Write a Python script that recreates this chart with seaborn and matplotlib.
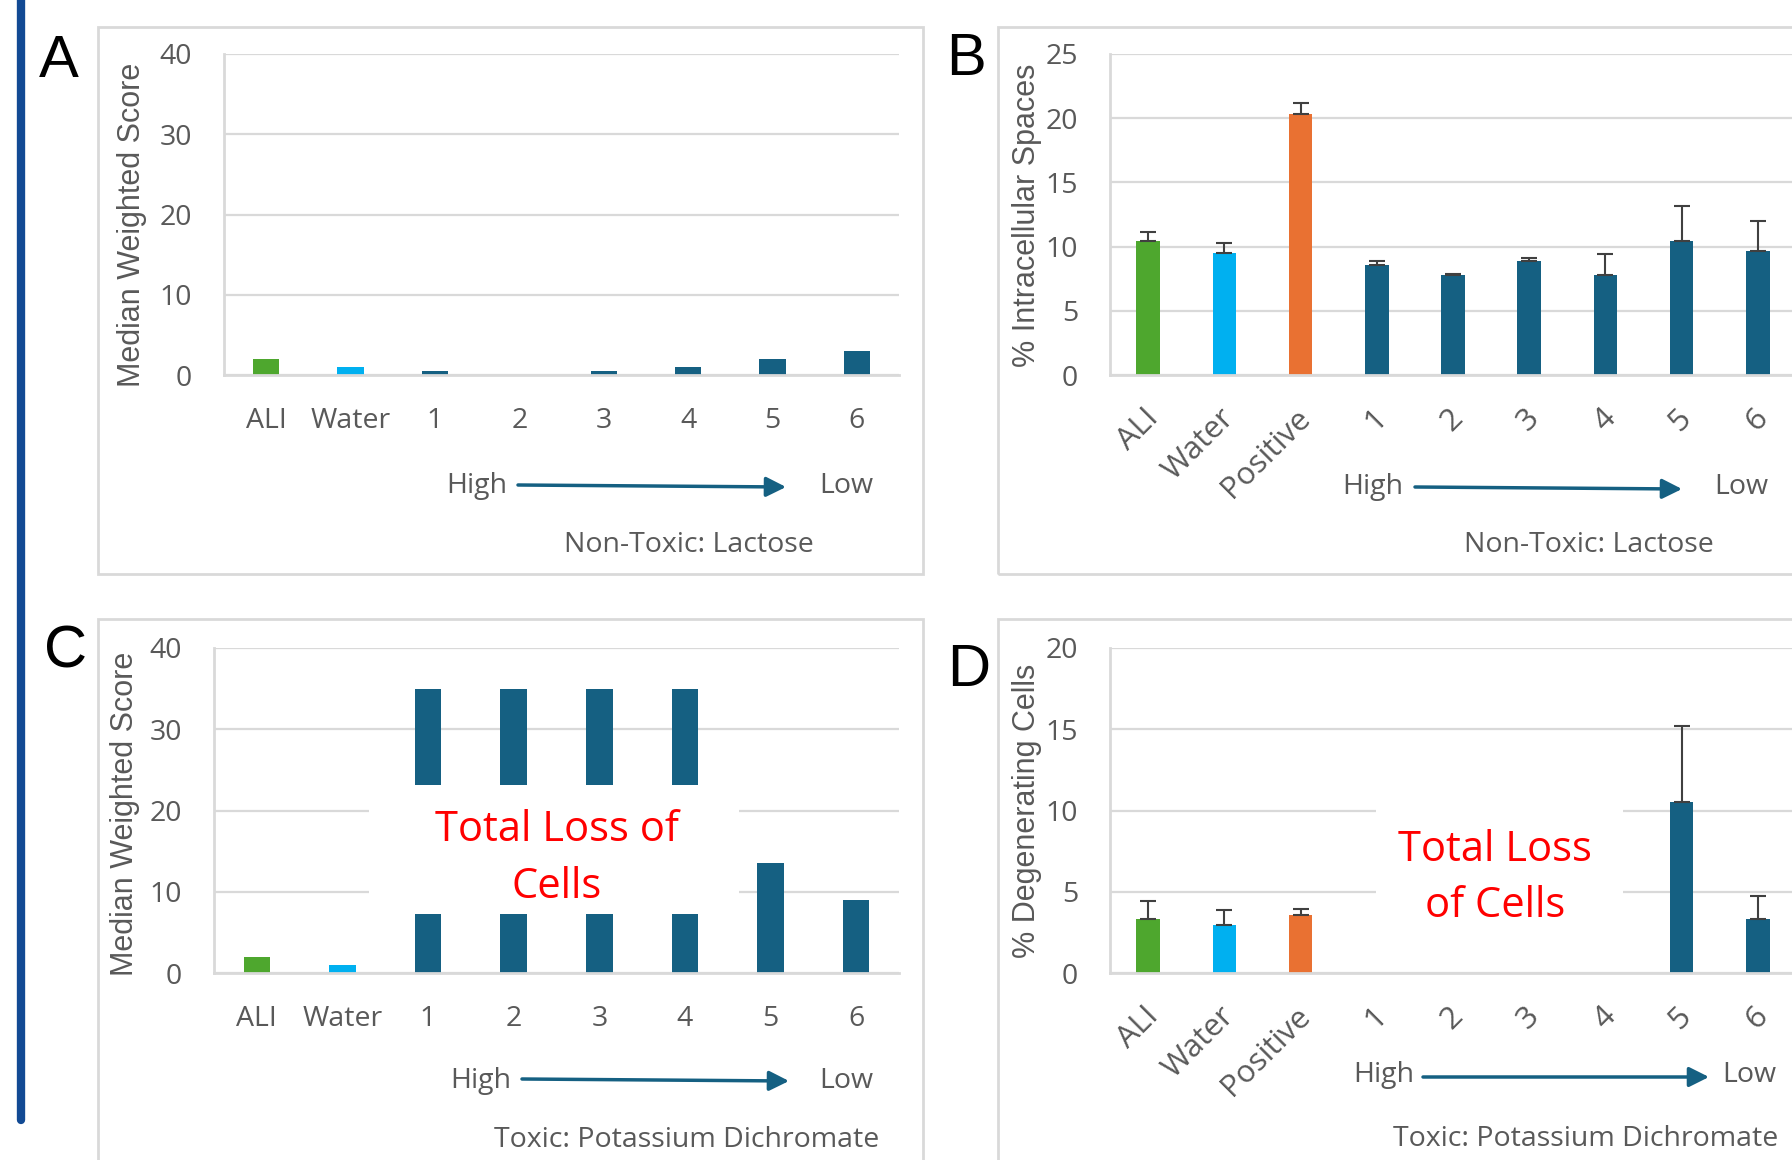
import numpy as np
import pandas as pd
import matplotlib
matplotlib.use("Agg")
import matplotlib.pyplot as plt
import seaborn as sns
from matplotlib.patches import Rectangle, FancyArrowPatch
from matplotlib.transforms import ScaledTranslation

# ---- data ----
groups_ac = ["ALI", "Water", "1", "2", "3", "4", "5", "6"]
score_lactose = [2, 1, 0.5, 0, 0.5, 1, 2, 3]
score_dichromate = [2, 1, 35, 35, 35, 35, 13.5, 9]

groups_bd = ["ALI", "Water", "Positive", "1", "2", "3", "4", "5", "6"]
spaces_mean = [10.4, 9.5, 20.3, 8.55, 7.8, 8.85, 7.75, 10.4, 9.65]
spaces_err = [0.75, 0.75, 0.85, 0.3, 0.05, 0.27, 1.65, 2.75, 2.35]
degen_mean = [3.35, 2.95, 3.55, np.nan, np.nan, np.nan, np.nan, 10.5, 3.3]
degen_err = [1.1, 0.92, 0.38, np.nan, np.nan, np.nan, np.nan, 4.7, 1.45]

colors = {"ALI": "#4EA72E", "Water": "#00B0F0", "Positive": "#E97132"}
navy = "#156082"
grey_txt = "#595959"
grid_c = "#D9D9D9"

W, H = 1792, 1160
sns.set_style("white")
plt.rcParams["font.family"] = ["Open Sans", "DejaVu Sans"]

fig = plt.figure(figsize=(W / 100, H / 100), dpi=100)


def fx(x):
    return x / W


def fy(y):
    return 1 - y / H


def rect(l, t, r, b):
    return [fx(l), fy(b), (r - l) / W, (b - t) / H]


def panel(box, groups, vals, ymax, ystep, ylabel, ylab_xy, err=None, rotate=False):
    ax = fig.add_axes(rect(*box))
    df = pd.DataFrame({"group": groups, "value": vals})
    pal = {g: colors.get(g, navy) for g in groups}
    sns.barplot(data=df, x="group", y="value", hue="group", order=groups,
                palette=pal, saturation=1, width=0.31, errorbar=None,
                legend=False, linewidth=0, ax=ax)
    if err is not None:
        ax.errorbar(range(len(groups)), vals, yerr=[np.zeros(len(err)), err],
                    fmt="none", ecolor="#404040", elinewidth=1.5, capsize=5.5,
                    capthick=1.5, zorder=3)
    ax.set_ylim(0, ymax)
    ax.set_xlim(-0.5, len(groups) - 0.5)
    ax.set_yticks(np.arange(0, ymax + 0.1, ystep))
    ax.grid(axis="y", color=grid_c, lw=1.6)
    ax.set_axisbelow(True)
    for s in ["top", "right"]:
        ax.spines[s].set_visible(False)
    for s in ["left", "bottom"]:
        ax.spines[s].set_color(grid_c)
        ax.spines[s].set_linewidth(2)
    ax.tick_params(length=0, labelsize=20.5, labelcolor=grey_txt)
    ax.tick_params(axis="y", pad=23)
    ax.tick_params(axis="x", pad=23)
    ax.set_xlabel("")
    ax.set_ylabel(ylabel, fontsize=22, color=grey_txt, family="Liberation Sans")
    ax.yaxis.label.set_va("center")
    ax.yaxis.set_label_coords(fx(ylab_xy[0]), fy(ylab_xy[1]), transform=fig.transFigure)
    if rotate:
        off = ScaledTranslation(-5 / 100, 4 / 100, fig.dpi_scale_trans)
        for lbl in ax.get_xticklabels():
            lbl.set_rotation(45)
            lbl.set_fontsize(22.5)
            lbl.set_ha("right")
            lbl.set_rotation_mode("anchor")
            lbl.set_transform(lbl.get_transform() + off)
    return ax


def frame(l, t, r, b):
    fig.add_artist(Rectangle((fx(l), fy(b)), (r - l) / W, (b - t) / H,
                             transform=fig.transFigure, fill=False,
                             edgecolor=grid_c, lw=2))


def trend(high, low, a0, a1, label, lab_xy):
    fig.text(fx(high[0]), fy(high[1]), "High", ha="center", va="baseline",
             fontsize=20.5, color=grey_txt)
    fig.text(fx(low[0]), fy(low[1]), "Low", ha="center", va="baseline",
             fontsize=20.5, color=grey_txt)
    fig.add_artist(FancyArrowPatch(
        (fx(a0[0]), fy(a0[1])), (fx(a1[0]), fy(a1[1])),
        transform=fig.transFigure, arrowstyle="-|>,head_length=0.6,head_width=0.3",
        mutation_scale=20, color=navy, lw=2.5, shrinkA=0, shrinkB=0))
    fig.text(fx(lab_xy[0]), fy(lab_xy[1]), label, ha="center", va="baseline",
             fontsize=20.5, color=grey_txt)


# outer frames
frame(98, 27, 923, 574)
frame(998, 27, 1900, 574)
frame(98, 619, 923, 1300)
frame(998, 619, 1900, 1300)

# left blue bar
fig.add_artist(plt.Line2D([fx(21), fx(21)], [fy(0), fy(1120)],
                          transform=fig.transFigure, color="#124A94", lw=6))

# A
axA = panel((224, 54, 899, 375), groups_ac, score_lactose, 40, 10,
            "Median Weighted Score", (132, 225))
trend((477, 493), (846, 493), (518, 485), (786, 487), "Non-Toxic: Lactose", (689, 552))

# B
axB = panel((1110, 54, 1796, 375), groups_bd, spaces_mean, 25, 5,
            "% Intracellular Spaces", (1027, 215), err=spaces_err, rotate=True)
trend((1373, 494), (1741, 494), (1415, 487), (1682, 489), "Non-Toxic: Lactose", (1589, 552))

# C
axC = panel((214, 648, 899, 973), groups_ac, score_dichromate, 40, 10,
            "Median Weighted Score", (125, 814))
axC.add_patch(Rectangle((1.31, 7.3), 5.63 - 1.31, 23.1 - 7.3, facecolor="white",
                        edgecolor="none", zorder=4))
axC.text(3.5, 14.1, "Total Loss of\nCells", ha="center", va="center", color="red",
         fontsize=30, linespacing=1.45, zorder=5)
trend((481, 1088), (846, 1088), (522, 1079), (789, 1081),
      "Toxic: Potassium Dichromate", (687, 1147))

# D
axD = panel((1110, 648, 1796, 973), groups_bd, degen_mean, 20, 5,
            "% Degenerating Cells", (1027, 811), err=degen_err, rotate=True)
axD.add_patch(Rectangle((2.99, 2.0), 6.23 - 2.99, 10.0, facecolor="white",
                        edgecolor="none", zorder=4))
axD.text(4.55, 5.85, "Total Loss\nof Cells", ha="center", va="center",
         color="red", fontsize=30, linespacing=1.45, zorder=5)
trend((1384, 1082), (1749, 1082), (1423, 1077), (1709, 1077),
      "Toxic: Potassium Dichromate", (1586, 1146))

# panel letters
for letter, (x, y) in {"A": (59, 77), "B": (966, 75), "C": (66, 667), "D": (969, 686)}.items():
    fig.text(fx(x), fy(y), letter, ha="center", va="baseline", fontsize=43,
             family="Liberation Sans", color="black")

fig.savefig("out.png", dpi=100)
